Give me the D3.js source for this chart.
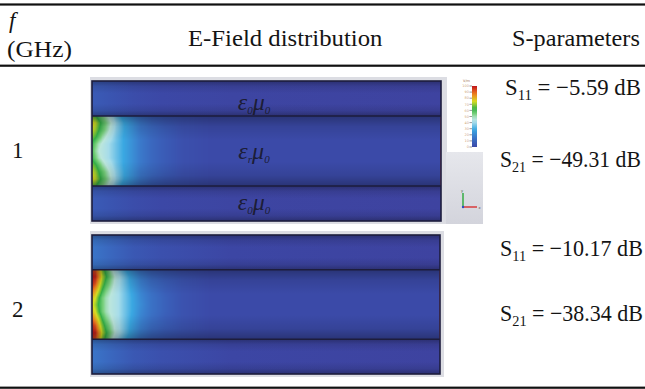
<!DOCTYPE html>
<html><head><meta charset="utf-8">
<script src="https://cdn.jsdelivr.net/npm/d3@7"></script>
<style>html,body{margin:0;padding:0;background:#fff;} svg{display:block;}</style>
</head><body>
<svg id="c" width="645" height="389"></svg>
<script>
// ---------------- data ----------------
const freqs = ["1", "2"];
const s11 = [-5.59, -10.17];
const s21 = [-49.31, -38.34];
const colHeaders = ["E-Field distribution", "S-parameters"];
const layerLabels = [["ε", "0", "μ", "0"], ["ε", "r", "μ", "0"], ["ε", "0", "μ", "0"]];
const layerThickness = [1, 2, 1];
// core-layer field near the port: columns = position along guide (% of length), rows = fraction of core height
const gridCols = [0, 1, 2, 3, 4, 5.5, 7, 9, 11.5, 14, 17, 21, 26, 34];
const gridRows = [0, 0.1, 0.2, 0.3, 0.4, 0.5, 0.6, 0.7, 0.8, 0.9, 1];
const field1 = [
  [0.68,0.66,0.60,0.56,0.52,0.46,0.38,0.30,0.23,0.17,0.13,0.10,0.08,0.06],
  [0.78,0.75,0.68,0.62,0.57,0.50,0.42,0.34,0.27,0.20,0.15,0.11,0.08,0.06],
  [0.76,0.72,0.65,0.60,0.55,0.48,0.41,0.34,0.27,0.20,0.16,0.12,0.08,0.06],
  [0.70,0.66,0.60,0.54,0.50,0.45,0.39,0.33,0.27,0.21,0.16,0.12,0.08,0.06],
  [0.64,0.58,0.52,0.49,0.46,0.42,0.38,0.33,0.27,0.21,0.16,0.12,0.08,0.06],
  [0.62,0.55,0.50,0.48,0.46,0.42,0.38,0.33,0.27,0.21,0.16,0.12,0.08,0.06],
  [0.64,0.58,0.52,0.49,0.46,0.42,0.38,0.33,0.27,0.21,0.16,0.12,0.08,0.06],
  [0.70,0.66,0.60,0.54,0.50,0.45,0.39,0.33,0.27,0.21,0.16,0.12,0.08,0.06],
  [0.76,0.72,0.65,0.60,0.55,0.48,0.41,0.34,0.27,0.20,0.16,0.12,0.08,0.06],
  [0.78,0.75,0.68,0.62,0.57,0.50,0.42,0.34,0.27,0.20,0.15,0.11,0.08,0.06],
  [0.68,0.66,0.60,0.56,0.52,0.46,0.38,0.30,0.23,0.17,0.13,0.10,0.08,0.06]
];
const field2 = [
  [0.95,0.92,0.82,0.70,0.62,0.52,0.44,0.36,0.27,0.19,0.14,0.11,0.08,0.06],
  [1.00,0.98,0.86,0.74,0.66,0.56,0.48,0.40,0.30,0.22,0.16,0.12,0.09,0.06],
  [0.98,0.92,0.80,0.70,0.62,0.54,0.47,0.40,0.31,0.23,0.17,0.13,0.09,0.06],
  [0.90,0.82,0.74,0.64,0.57,0.51,0.46,0.40,0.32,0.24,0.18,0.13,0.09,0.06],
  [0.80,0.76,0.66,0.58,0.53,0.49,0.46,0.40,0.33,0.25,0.19,0.14,0.09,0.06],
  [0.78,0.72,0.64,0.58,0.53,0.49,0.46,0.40,0.33,0.26,0.19,0.14,0.09,0.06],
  [0.80,0.76,0.66,0.58,0.53,0.49,0.46,0.40,0.33,0.25,0.19,0.14,0.09,0.06],
  [0.90,0.82,0.74,0.64,0.57,0.51,0.46,0.40,0.32,0.24,0.18,0.13,0.09,0.06],
  [0.98,0.92,0.80,0.70,0.62,0.54,0.47,0.40,0.31,0.23,0.17,0.13,0.09,0.06],
  [1.00,0.98,0.86,0.74,0.66,0.56,0.48,0.40,0.30,0.22,0.16,0.12,0.09,0.06],
  [0.95,0.92,0.82,0.70,0.62,0.52,0.44,0.36,0.27,0.19,0.14,0.11,0.08,0.06]
];
const fields = [field1, field2];
// air-layer field along the guide
const airCols = [0, 5, 12, 20, 40, 100];
const air1 = [0.12, 0.10, 0.07, 0.05, 0.03, 0.02];
const air2 = [0.20, 0.16, 0.11, 0.08, 0.04, 0.02];
const airs = [air1, air2];
const coreBase = [0.06, 0.06];
const legendLevels = [1, 0.9, 0.8, 0.7, 0.6, 0.5, 0.4, 0.3, 0.2, 0.1, 0];
const legendTickLabels = ["100", "90", "80", "70", "60", "50", "40", "30", "20", "10", "0"];

// ---------------- drawing ----------------
const svg = d3.select("#c");
const FONT = "'Liberation Serif', 'Times New Roman', serif";
const ink = "#141414";
const FS = 23;

const color = d3.scaleLinear()
  .domain([0, 0.06, 0.13, 0.22, 0.33, 0.44, 0.5, 0.57, 0.65, 0.76, 0.88, 1])
  .range(["#3f3f9c","#3b4aa8","#3a5eb8","#3a7ccc","#3aa8e2","#a6dcea","#bce6dc","#78d07c","#34b048","#d6de22","#f07a1e","#be141c"])
  .clamp(true);

function fit(t, x0, w) {
  const bb = t.node().getBBox();
  const k = w / bb.width;
  t.attr("transform", `translate(${x0 - bb.x * k},0) scale(${k},1)`);
}

const defs = svg.append("defs");
const shade = defs.append("linearGradient").attr("id", "shade").attr("x1", 0).attr("x2", 0).attr("y1", 0).attr("y2", 1);
[[0, .30], [.15, .10], [.35, 0], [.65, 0], [.85, .10], [1, .30]].forEach(([o, a]) =>
  shade.append("stop").attr("offset", o).attr("stop-color", "#000").attr("stop-opacity", a));

// rules
[[3.4, 2.2], [64.6, 2.2], [386.6, 2.2]].forEach(([y, h]) =>
  svg.append("rect").attr("x", 0).attr("y", y).attr("width", 645).attr("height", h).attr("fill", "#111"));

// header
svg.append("text").attr("x", 9).attr("y", 28).attr("font-family", FONT).attr("font-style", "italic")
  .attr("font-size", FS).attr("fill", ink).text("f");
fit(svg.append("text").attr("x", 7).attr("y", 57).attr("font-family", FONT)
  .attr("font-size", FS).attr("fill", ink).text("(GHz)"), 7, 65);
fit(svg.append("text").attr("x", 188).attr("y", 46).attr("font-family", FONT)
  .attr("font-size", FS).attr("fill", ink).text(colHeaders[0]), 188, 195);
fit(svg.append("text").attr("x", 512).attr("y", 46).attr("font-family", FONT)
  .attr("font-size", FS).attr("fill", ink).text(colHeaders[1]), 512, 128);

const panels = [
  {x0: 92, x1: 441, y0: 81, y1: 221, fx0: 90, fy0: 77, fx1: 447, fy1: 224, labelY: 158,
   s: [{y: 95, x: 505, w: 136}, {y: 167, x: 500, w: 141}]},
  {x0: 92, x1: 440, y0: 235, y1: 374, fx0: 90, fy0: 231, fx1: 444, fy1: 377, labelY: 317,
   s: [{y: 256, x: 500, w: 143}, {y: 321, x: 500, w: 143}]}
];

const fmt = d3.format(".2f");

function fieldImage(field, xg, w, h) {
  const cv = document.createElement("canvas");
  cv.width = w; cv.height = h;
  const ctx = cv.getContext("2d");
  const img = ctx.createImageData(w, h);
  const ci = d3.scaleLinear().domain(gridCols).range(d3.range(gridCols.length)).clamp(true);
  const ri = d3.scaleLinear().domain(gridRows).range(d3.range(gridRows.length)).clamp(true);
  for (let j = 0; j < h; j++) {
    const fr = ri((j + 0.5) / h);
    const r0 = Math.floor(fr), r1 = Math.min(r0 + 1, gridRows.length - 1), tr = fr - r0;
    for (let i = 0; i < w; i++) {
      const pos = xg.invert(xg(0) + i + 0.5);
      const fc = ci(pos);
      const c0 = Math.floor(fc), c1 = Math.min(c0 + 1, gridCols.length - 1), tc = fc - c0;
      const v = (field[r0][c0] * (1 - tc) + field[r0][c1] * tc) * (1 - tr) +
                (field[r1][c0] * (1 - tc) + field[r1][c1] * tc) * tr;
      const c = d3.rgb(color(v));
      const k = (j * w + i) * 4;
      img.data[k] = c.r; img.data[k + 1] = c.g; img.data[k + 2] = c.b; img.data[k + 3] = 255;
    }
  }
  ctx.putImageData(img, 0, 0);
  return cv.toDataURL();
}

panels.forEach((p, fi) => {
  const g = svg.append("g");
  g.append("rect").attr("x", p.fx0).attr("y", p.fy0).attr("width", p.fx1 - p.fx0).attr("height", p.fy1 - p.fy0)
    .attr("fill", "#dcdde3");
  const xg = d3.scaleLinear().domain([0, 100]).range([p.x0, p.x1]);
  const cum = d3.cumsum(layerThickness);
  const yl = d3.scaleLinear().domain([0, cum[cum.length - 1]]).range([p.y0, p.y1]);
  const bounds = layerThickness.map((t, i) => [yl(cum[i] - t), yl(cum[i])]);

  const ag = defs.append("linearGradient").attr("id", "air" + fi).attr("gradientUnits", "userSpaceOnUse")
    .attr("x1", xg(0)).attr("x2", xg(100)).attr("y1", 0).attr("y2", 0);
  airCols.forEach((c, i) => ag.append("stop").attr("offset", c / 100).attr("stop-color", color(airs[fi][i])));

  bounds.forEach(([a, b], li) => {
    const isCore = li === 1;
    g.append("rect").attr("x", xg(0)).attr("y", a).attr("width", xg(100) - xg(0)).attr("height", b - a)
      .attr("fill", isCore ? color(coreBase[fi]) : `url(#air${fi})`);
    if (isCore) {
      const w = Math.round(xg(gridCols[gridCols.length - 1]) - xg(0));
      const h = Math.round(b - a);
      g.append("image").attr("x", xg(0)).attr("y", a).attr("width", w).attr("height", h)
        .attr("preserveAspectRatio", "none").attr("href", fieldImage(fields[fi], xg, w, h));
    }
    g.append("rect").attr("x", xg(0)).attr("y", a).attr("width", xg(100) - xg(0)).attr("height", b - a)
      .attr("fill", "url(#shade)");
  });
  g.append("line").attr("x1", xg(100) - 0.5).attr("x2", xg(100) - 0.5).attr("y1", bounds[1][0]).attr("y2", bounds[1][1])
    .attr("stroke", "#e05060").attr("stroke-opacity", 0.6).attr("stroke-width", 1);
  bounds.slice(1).forEach(([a]) =>
    g.append("line").attr("x1", xg(0)).attr("x2", xg(100)).attr("y1", a).attr("y2", a)
      .attr("stroke", "#1d1d3c").attr("stroke-width", 1.6));
  g.append("rect").attr("x", xg(0)).attr("y", p.y0).attr("width", xg(100) - xg(0)).attr("height", p.y1 - p.y0)
    .attr("fill", "none").attr("stroke", "#1d1d3c").attr("stroke-width", 1.6);

  svg.append("text").attr("x", 12).attr("y", p.labelY).attr("font-family", FONT).attr("font-size", FS)
    .attr("fill", ink).text(freqs[fi]);

  [["11", s11[fi]], ["21", s21[fi]]].forEach(([sub, val], si) => {
    const sp = p.s[si];
    const t = svg.append("text").attr("x", sp.x).attr("y", sp.y)
      .attr("font-family", FONT).attr("font-size", FS).attr("fill", ink);
    t.append("tspan").text("S");
    t.append("tspan").attr("font-size", 15).attr("dy", 5).text(sub);
    t.append("tspan").attr("dy", -5).text(" = " + fmt(val) + " dB");
    fit(t, sp.x, sp.w);
  });

  if (fi === 0) {
    const ly = [110, 159, 210];
    layerLabels.forEach((lab, li) => {
      const t = g.append("text").attr("x", 254).attr("y", ly[li]).attr("text-anchor", "middle")
        .attr("font-family", FONT).attr("font-style", "italic").attr("font-size", 24)
        .attr("fill", "#181828").attr("fill-opacity", 0.9);
      t.append("tspan").text(lab[0]);
      t.append("tspan").attr("font-size", 11).attr("dy", 4).text(lab[1]);
      t.append("tspan").attr("dy", -4).text(lab[2]);
      t.append("tspan").attr("font-size", 11).attr("dy", 4).text(lab[3]);
    });
    const lg = svg.append("g");
    const lgd = defs.append("linearGradient").attr("id", "lgray").attr("x1", 0).attr("x2", 0).attr("y1", 0).attr("y2", 1);
    lgd.append("stop").attr("offset", 0).attr("stop-color", "#e6e7ec");
    lgd.append("stop").attr("offset", 1).attr("stop-color", "#d3d4dc");
    lg.append("rect").attr("x", 446).attr("y", 152).attr("width", 37).attr("height", 72).attr("fill", "url(#lgray)");
    const ys = d3.scaleLinear().domain([0, 1]).range([147, 86]);
    const cb = defs.append("linearGradient").attr("id", "cbar").attr("x1", 0).attr("x2", 0).attr("y1", 1).attr("y2", 0);
    d3.range(0, 1.0001, 0.05).forEach(v => cb.append("stop").attr("offset", v).attr("stop-color", color(v * 0.94 + 0.06)));
    lg.append("rect").attr("x", 472).attr("y", ys(1)).attr("width", 5).attr("height", ys(0) - ys(1)).attr("fill", "url(#cbar)");
    lg.append("text").attr("x", 463).attr("y", 82).attr("font-family", "DejaVu Sans").attr("font-size", 3.5)
      .attr("fill", "#a07050").text("V/m");
    legendLevels.forEach((v, i) => {
      lg.append("text").attr("x", 469).attr("y", ys(v) + 1.2).attr("text-anchor", "end")
        .attr("font-family", "DejaVu Sans").attr("font-size", 3.5).attr("fill", "#c08a50").attr("fill-opacity", 0.8)
        .text(legendTickLabels[i]);
      lg.append("line").attr("x1", 469.5).attr("x2", 472).attr("y1", ys(v)).attr("y2", ys(v))
        .attr("stroke", "#555").attr("stroke-width", 0.6);
    });
    lg.append("line").attr("x1", 463).attr("x2", 463).attr("y1", 193).attr("y2", 207).attr("stroke", "#2aa83a").attr("stroke-width", 1.4);
    lg.append("line").attr("x1", 463).attr("x2", 477).attr("y1", 207).attr("y2", 207).attr("stroke", "#d83030").attr("stroke-width", 1.4);
    lg.append("circle").attr("cx", 463).attr("cy", 207).attr("r", 1.2).attr("fill", "#3050c0");
    lg.append("text").attr("x", 461).attr("y", 192).attr("font-family", "DejaVu Sans").attr("font-size", 3.5).attr("fill", "#406040").text("y");
    lg.append("text").attr("x", 478.5).attr("y", 208.5).attr("font-family", "DejaVu Sans").attr("font-size", 3.5).attr("fill", "#604040").text("x");
  }
});
</script>
</body></html>
